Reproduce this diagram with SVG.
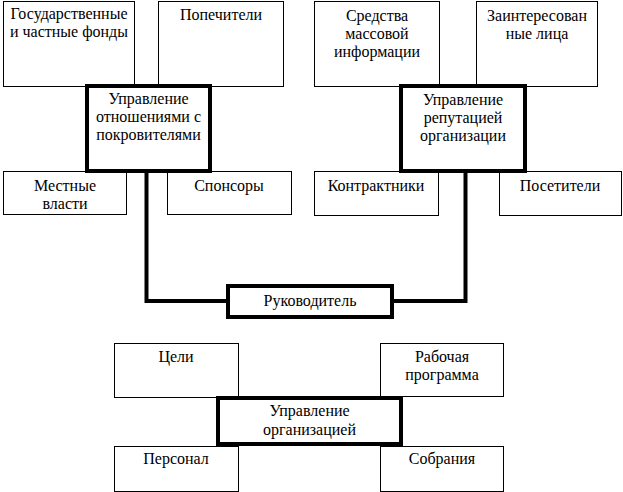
<svg xmlns="http://www.w3.org/2000/svg" width="623" height="492" viewBox="0 0 623 492">
<style>
.bg{fill:#ffffff}
.thin{fill:#ffffff;stroke:#000000;stroke-width:1}
.thick{fill:#ffffff;stroke:#000000;stroke-width:4}
.conn{fill:none;stroke:#000000;stroke-width:4;stroke-linejoin:miter}
.t{font-family:"Times New Roman","Liberation Serif","DejaVu Serif",Times,serif;font-size:16px;fill:#000000;text-anchor:middle}
</style>
<rect class="bg" x="0" y="0" width="623" height="492"/>
<g id="connectors">
<path class="conn" d="M146.5,173 V301 H228"/>
<path class="conn" d="M465.5,173 V301 H392"/>
</g>
<g id="n-gos-fondy">
<rect class="thin" x="3.5" y="1.5" width="131" height="85"/>
<text class="t" x="69" y="19">Государственные</text>
<text class="t" x="69" y="37">и частные фонды</text>
</g>
<g id="n-popechiteli">
<rect class="thin" x="158.5" y="1.5" width="125" height="85"/>
<text class="t" x="221" y="20">Попечители</text>
</g>
<g id="n-smi">
<rect class="thin" x="314.5" y="1.5" width="125" height="85"/>
<text class="t" x="377" y="21">Средства</text>
<text class="t" x="377" y="39">массовой</text>
<text class="t" x="377" y="57">информации</text>
</g>
<g id="n-zainteresovannye">
<rect class="thin" x="476.5" y="1.5" width="121" height="85"/>
<text class="t" x="537" y="21">Заинтересован</text>
<text class="t" x="537" y="39">ные лица</text>
</g>
<g id="n-mestnye">
<rect class="thin" x="3.5" y="171.5" width="123" height="43"/>
<text class="t" x="65" y="191">Местные</text>
<text class="t" x="65" y="209">власти</text>
</g>
<g id="n-sponsory">
<rect class="thin" x="167.5" y="171.5" width="124" height="43"/>
<text class="t" x="229" y="191">Спонсоры</text>
</g>
<g id="n-kontraktniki">
<rect class="thin" x="314.5" y="171.5" width="124" height="44"/>
<text class="t" x="376" y="191">Контрактники</text>
</g>
<g id="n-posetiteli">
<rect class="thin" x="499.5" y="171.5" width="122" height="44"/>
<text class="t" x="560" y="191">Посетители</text>
</g>
<g id="n-upr-pokroviteli">
<rect class="thick" x="87" y="86" width="123" height="85"/>
<text class="t" x="148.5" y="104">Управление</text>
<text class="t" x="148.5" y="122">отношениями с</text>
<text class="t" x="148.5" y="140">покровителями</text>
</g>
<g id="n-upr-reputaciya">
<rect class="thick" x="401" y="86" width="124" height="85"/>
<text class="t" x="463" y="105">Управление</text>
<text class="t" x="463" y="123">репутацией</text>
<text class="t" x="463" y="141">организации</text>
</g>
<g id="n-rukovoditel">
<rect class="thick" x="228" y="286" width="164" height="31"/>
<text class="t" x="310" y="306">Руководитель</text>
</g>
<g id="n-celi">
<rect class="thin" x="114.5" y="343.5" width="124" height="54"/>
<text class="t" x="176" y="362">Цели</text>
</g>
<g id="n-rabochaya">
<rect class="thin" x="380.5" y="343.5" width="123" height="53"/>
<text class="t" x="442" y="362">Рабочая</text>
<text class="t" x="442" y="380">программа</text>
</g>
<g id="n-personal">
<rect class="thin" x="114.5" y="446.5" width="124" height="45"/>
<text class="t" x="176" y="464">Персонал</text>
</g>
<g id="n-sobraniya">
<rect class="thin" x="380.5" y="446.5" width="123" height="45"/>
<text class="t" x="442" y="464">Собрания</text>
</g>
<g id="n-upr-organizaciya">
<rect class="thick" x="218" y="398" width="183" height="46"/>
<text class="t" x="309.5" y="416">Управление</text>
<text class="t" x="309.5" y="435">организацией</text>
</g>
</svg>
